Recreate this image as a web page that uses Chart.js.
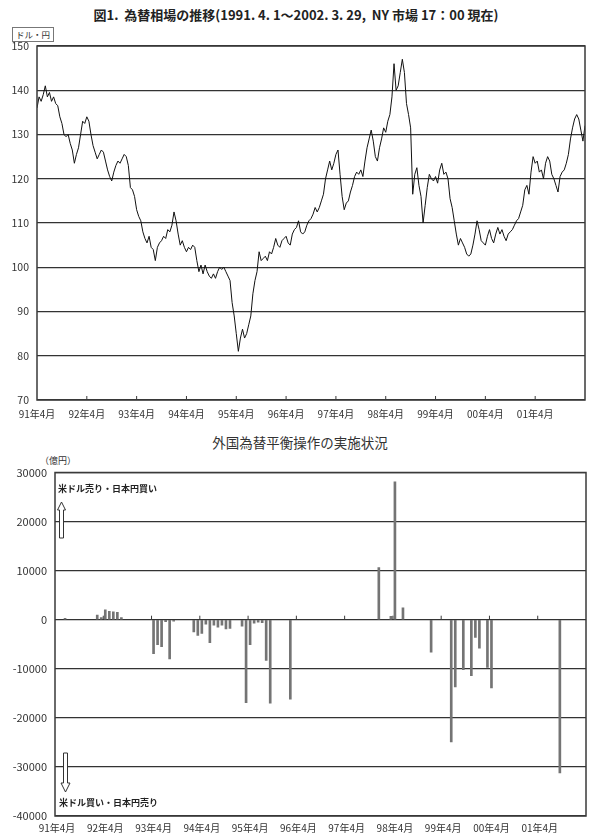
<!DOCTYPE html>
<html lang="ja">
<head>
<meta charset="utf-8">
<title>為替相場の推移・外国為替平衡操作の実施状況</title>
<script src="https://cdn.jsdelivr.net/npm/chart.js@4.4.1/dist/chart.umd.min.js"></script>
<style>
  html, body { margin: 0; padding: 0; background: #fff; }
  body { width: 615px; height: 836px; position: relative; overflow: hidden;
         font-family: "Noto Sans CJK JP", "Noto Sans", sans-serif; color: #333; }
  .box { position: absolute; left: 0; width: 615px; }
  #topBox { top: 0; height: 420px; }
  #bottomBox { top: 425px; height: 411px; }
  .txt { position: absolute; white-space: nowrap; line-height: 1; }
  #title1 { top: 8px; left: 0; width: 592px; text-align: center; font-size: 13px; font-weight: bold; color: #222; }
  #unit1 { top: 27px; left: 12px; font-size: 8.5px; border: 1px solid #777; padding: 2px 3px; color: #333; }
  #title2 { top: 436px; left: 0; width: 600px; text-align: center; font-size: 13.5px; color: #333; }
  #unit2 { top: 456px; left: 40px; font-size: 9px; color: #333; }
  #noteUp { top: 484px; left: 58px; font-size: 9px; font-weight: 600; color: #222; }
  #noteDown { top: 798px; left: 59px; font-size: 9px; font-weight: 600; color: #222; }
  svg.arrow { position: absolute; overflow: visible; }
</style>
</head>
<body>
<div class="txt" id="title1">図1.&nbsp; 為替相場の推移(1991. 4. 1～2002. 3. 29,&nbsp; NY 市場 17：00 現在)</div>
<div class="txt" id="unit1">ドル・円</div>
<div class="box" id="topBox"><canvas id="fx"></canvas></div>

<div class="txt" id="title2">外国為替平衡操作の実施状況</div>
<div class="txt" id="unit2">（億円）</div>
<div class="box" id="bottomBox"><canvas id="intv"></canvas></div>
<div class="txt" id="noteUp">米ドル売り・日本円買い</div>
<div class="txt" id="noteDown">米ドル買い・日本円売り</div>
<svg class="arrow" style="left:57px;top:501px" width="10" height="38">
  <polygon points="4.5,1 8.5,9 6.5,9 6.5,37 2.5,37 2.5,9 0.5,9" fill="#fff" stroke="#333" stroke-width="1"/>
</svg>
<svg class="arrow" style="left:61px;top:752px" width="10" height="42">
  <polygon points="2.5,1 6.5,1 6.5,31 9,31 4.5,40 0,31 2.5,31" fill="#fff" stroke="#333" stroke-width="1"/>
</svg>

<script>
// 年度ごとの目盛ラベル
const yearLabels = ['91年4月', '92年4月', '93年4月', '94年4月', '95年4月', '96年4月',
                    '97年4月', '98年4月', '99年4月', '00年4月', '01年4月'];

// ドル円相場（半月ごと, 1991年4月始まり, 図から読み取り）
const fxRates = [
  // 91年4月〜92年3月
  136, 138.5, 137.5, 139, 141, 138.5, 139.5, 137.5, 138.5, 137, 136.5, 134,
  132.5, 130, 129.5, 130, 128, 126.5, 123.5, 125.5, 127, 130, 133, 132.5,
  // 92年4月〜
  134, 133, 130, 127.5, 126, 124.5, 125.5, 126.5, 126, 124, 122, 120.5,
  119.5, 121.5, 123, 124, 123.5, 124.5, 125.5, 125, 123, 118, 117.5, 116,
  // 93年4月〜
  113, 111.5, 110.5, 108, 106.5, 105.5, 107, 104.5, 104, 101.5, 104.5, 105.5,
  106, 107, 106.5, 108.5, 108, 109.5, 112.5, 110.5, 107.5, 105, 106, 104.5,
  // 94年4月〜
  103.5, 104.5, 104, 105, 104.5, 101.5, 99, 100.5, 98.5, 100.5, 99, 98,
  97.5, 98.5, 97.5, 99, 100, 99.5, 100, 99, 98, 97, 92, 89,
  // 95年4月〜
  85, 81, 84, 86, 84, 85, 87, 89, 94, 97, 99, 103.5,
  101.5, 102, 102.5, 101.5, 103.5, 103, 104.5, 106.5, 105, 104.5, 106, 106.5,
  // 96年4月〜
  107, 105.5, 105, 107.5, 108.5, 109, 110.5, 108, 107.5, 108, 109.5, 110.5,
  111, 112, 113.5, 112.5, 113.5, 115, 116.5, 120, 122, 124, 122, 123.5,
  // 97年4月〜
  125.5, 126.5, 121, 116, 113, 114.5, 115, 117, 118.5, 120.5, 121.5, 121,
  122, 120.5, 124, 127, 129, 131, 128.5, 125, 124, 127, 129, 131.5,
  // 98年4月〜
  130.5, 133, 134.5, 138.5, 146, 140, 141, 144, 147, 144, 137, 134.5,
  131.5, 116.5, 121, 122.5, 118.5, 116, 110, 114, 118, 121, 120, 119.5,
  // 99年4月〜
  120.5, 119, 122, 123.5, 121, 121.5, 120, 115.5, 113.5, 110.5, 107.5, 105,
  106.5, 105.5, 104.5, 103, 102.5, 103, 105, 107.5, 110.5, 108.5, 106, 105.5,
  // 00年4月〜
  105, 107, 108.5, 106.5, 105.5, 107.5, 109, 107.5, 108.5, 107, 106, 107.5,
  108, 108.5, 109.5, 110.5, 111, 112.5, 114, 117.5, 118.5, 116.5, 121.5, 125,
  // 01年4月〜02年3月末
  123.5, 124, 121.5, 122, 120, 123.5, 125, 124, 121, 120, 118.5, 117,
  120.5, 121.5, 122, 123.5, 125.5, 129, 131.5, 133.5, 134.5, 133.5, 131, 128.5,
  132
];

// 外国為替平衡操作（月, 億円。プラス＝米ドル売り・日本円買い）
const interventionMonths = [
  '1991-06',
  '1992-02', '1992-03', '1992-04', '1992-05', '1992-06', '1992-07', '1992-08',
  '1993-04', '1993-05', '1993-06', '1993-07', '1993-08', '1993-09',
  '1994-02', '1994-03', '1994-04', '1994-05', '1994-06', '1994-07', '1994-08', '1994-09', '1994-10', '1994-11',
  '1995-02', '1995-03', '1995-04', '1995-05', '1995-06', '1995-07', '1995-08', '1995-09',
  '1996-02',
  '1997-12', '1998-03', '1998-04', '1998-06',
  '1999-01', '1999-06', '1999-07', '1999-09', '1999-11', '1999-12', '2000-01', '2000-03', '2000-04',
  '2001-09'
];
const interventionValues = [
  300,
  950, 450, 2000, 1700, 1600, 1500, 450,
  -6900, -5100, -5500, -400, -8000, -300,
  -2500, -3200, -2800, -900, -4700, -1100, -1500, -1100, -1900, -1750,
  -1300, -16900, -5100, -700, -500, -600, -8300, -17000,
  -16200,
  10600, 700, 28100, 2400,
  -6600, -24900, -13700, -10200, -11400, -3600, -5800, -9700, -13900,
  -31200
];

// 1991年4月からの月数
function monthIndex(s){
  const [y, m] = s.split('-').map(Number);
  return (y - 1991) * 12 + (m - 4);
}

const yearTicks = yearLabels.map((_, i) => i * 12);

// 枠線と年の目盛（内側向き）
const framePlugin = {
  id: 'frame',
  afterDatasetsDraw(chart, args, opts){
    const {ctx, chartArea: a, scales} = chart;
    ctx.save();
    ctx.strokeStyle = '#3a3a3a';
    ctx.lineWidth = 1.5;
    ctx.strokeRect(a.left, a.top, a.right - a.left, a.bottom - a.top);
    const y0 = opts.atZero ? scales.y.getPixelForValue(0) : a.bottom;
    ctx.lineWidth = 1;
    ctx.beginPath();
    opts.marks.forEach(v => {
      const x = scales.x.getPixelForValue(v);
      ctx.moveTo(x, y0);
      ctx.lineTo(x, y0 - 4);
    });
    ctx.stroke();
    ctx.restore();
  }
};

Chart.defaults.font.family = '"Noto Sans CJK JP", "Noto Sans", sans-serif';
Chart.defaults.color = '#333';

new Chart(document.getElementById('fx'), {
  type: 'line',
  data: {
    datasets: [{
      data: fxRates.map((v, i) => ({x: i / 2, y: v})),
      borderColor: '#111',
      borderWidth: 1,
      pointRadius: 0,
      tension: 0
    }]
  },
  options: {
    responsive: true,
    maintainAspectRatio: false,
    animation: false,
    layout: {padding: {top: 46, right: 30, left: 0, bottom: 0}},
    plugins: {
      legend: {display: false},
      tooltip: {enabled: false},
      frame: {marks: yearTicks.slice(1), atZero: false}
    },
    scales: {
      x: {
        type: 'linear',
        offset: false,
        min: 0,
        max: 132,
        afterBuildTicks: s => { s.ticks = yearTicks.map(v => ({value: v})); },
        afterFit: s => { s.height = 20; },
        grid: {display: false, drawTicks: false},
        border: {display: false},
        ticks: {
          autoSkip: false, maxRotation: 0, padding: 8,
          font: {size: 10},
          callback: (v, i) => yearLabels[i]
        }
      },
      y: {
        min: 70,
        max: 150,
        afterFit: s => { s.width = 37; },
        grid: {color: '#333', lineWidth: 1.3, drawTicks: false},
        border: {display: false},
        ticks: {stepSize: 10, padding: 8, font: {size: 10.5}, callback: v => String(v)}
      }
    }
  },
  plugins: [framePlugin]
});

new Chart(document.getElementById('intv'), {
  type: 'bar',
  data: {
    datasets: [{
      data: interventionMonths.map((m, i) => ({x: monthIndex(m), y: interventionValues[i]})),
      backgroundColor: '#747474',
      borderWidth: 0,
      barThickness: 2
    }]
  },
  options: {
    responsive: true,
    maintainAspectRatio: false,
    animation: false,
    layout: {padding: {top: 47.5, right: 29, left: 0, bottom: 0}},
    plugins: {
      legend: {display: false},
      tooltip: {enabled: false},
      frame: {marks: yearTicks.slice(1).map(v => v - 0.5), atZero: true}
    },
    scales: {
      x: {
        type: 'linear',
        offset: false,
        min: -0.5,
        max: 131.5,
        afterBuildTicks: s => { s.ticks = yearTicks.map(v => ({value: v})); },
        afterFit: s => { s.height = 20; },
        grid: {display: false, drawTicks: false},
        border: {display: false},
        ticks: {
          autoSkip: false, maxRotation: 0, padding: 6,
          font: {size: 10},
          callback: (v, i) => yearLabels[i]
        }
      },
      y: {
        min: -40000,
        max: 30000,
        afterFit: s => { s.width = 55; },
        grid: {color: '#333', lineWidth: 1.3, drawTicks: false},
        border: {display: false},
        ticks: {stepSize: 10000, padding: 8, font: {size: 11}, callback: v => String(v)}
      }
    }
  },
  plugins: [framePlugin]
});
</script>
</body>
</html>
